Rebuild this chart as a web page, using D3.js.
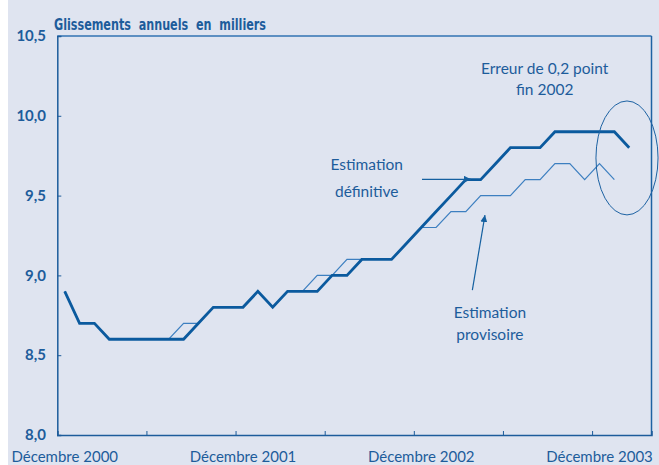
<!DOCTYPE html>
<meta charset="utf-8">
<style>
body {
  margin: 0;
  background: #fff;
}
svg text {
  fill: #1d5c9b;
  font-family: Lato, "Open Sans", sans-serif;
}
.title {
  font-family: "DejaVu Sans Condensed", "DejaVu Sans", sans-serif;
  font-size: 16px;
  font-weight: bold;
}
.ylab {
  font-size: 15px;
  font-weight: bold;
}
.xlab {
  font-size: 15px;
}
.note {
  font-size: 15.5px;
}
</style>
<body>
<script src="https://d3js.org/d3.v7.min.js"></script>
<script>

var width = 659,
    height = 465;

// months counted from Decembre 2000, points sit in the middle of each month
var definitive = [8.9, 8.7, 8.7, 8.6, 8.6, 8.6, 8.6, 8.6, 8.6, 8.7,
                  8.8, 8.8, 8.8, 8.9, 8.8, 8.9, 8.9, 8.9, 9.0, 9.0,
                  9.1, 9.1, 9.1, 9.2, 9.3, 9.4, 9.5, 9.6, 9.6, 9.7,
                  9.8, 9.8, 9.8, 9.9, 9.9, 9.9, 9.9, 9.9, 9.8];

var provisoire = [8.9, 8.7, 8.7, 8.6, 8.6, 8.6, 8.6, 8.6, 8.7, 8.7,
                  8.8, 8.8, 8.8, 8.9, 8.8, 8.9, 8.9, 9.0, 9.0, 9.1,
                  9.1, 9.1, 9.1, 9.2, 9.3, 9.3, 9.4, 9.4, 9.5, 9.5,
                  9.5, 9.6, 9.6, 9.7, 9.7, 9.6, 9.7, 9.6];

var yTicks = [8.0, 8.5, 9.0, 9.5, 10.0, 10.5];
var xTicks = [0, 6, 12, 18, 24, 30, 36];
var xLabels = [
  {m: 0, text: "Décembre 2000"},
  {m: 12, text: "Décembre 2001"},
  {m: 24, text: "Décembre 2002"},
  {m: 36, text: "Décembre 2003"}
];

// annotations, in (month, value) units
var notes = [
  {m: 20.83, v: 9.692, text: "Estimation"},
  {m: 20.83, v: 9.524, text: "définitive"},
  {m: 29.12, v: 8.766, text: "Estimation"},
  {m: 29.12, v: 8.627, text: "provisoire"},
  {m: 32.81, v: 10.298, text: "Erreur de 0,2 point"},
  {m: 32.81, v: 10.162, text: "fin 2002"}
];
var arrows = [
  {m0: 24.55, v0: 9.602, m1: 27.85, v1: 9.602},
  {m0: 27.94, v0: 8.908, m1: 28.79, v1: 9.378}
];
var ellipse = {m: 38.35, v: 9.736, dm: 2.09, dv: 0.357};

var margin = {top: 36, right: 7.5, bottom: 30, left: 57.3};

var x = d3.scaleLinear()
    .domain([0, 40])
    .range([margin.left, width - margin.right]);

var y = d3.scaleLinear()
    .domain([8, 10.5])
    .range([height - margin.bottom, margin.top]);

var svg = d3.select("body").append("svg")
    .attr("width", width)
    .attr("height", height);

svg.append("rect")
    .attr("x", 8)
    .attr("width", width - 8)
    .attr("height", height)
    .attr("fill", "#dfe4f0");

var defs = svg.append("defs");
defs.append("marker")
    .attr("id", "head")
    .attr("viewBox", "0 0 10 10")
    .attr("refX", 10)
    .attr("refY", 5)
    .attr("markerWidth", 7)
    .attr("markerHeight", 7)
    .attr("markerUnits", "userSpaceOnUse")
    .attr("orient", "auto")
  .append("path")
    .attr("d", "M0,0L10,5L0,10z")
    .attr("fill", "#1560a0");

svg.append("text")
    .attr("class", "title")
    .attr("x", 54)
    .attr("y", 30)
    .attr("textLength", 212)
    .attr("lengthAdjust", "spacingAndGlyphs")
    .text("Glissements  annuels  en  milliers")
    .style("white-space", "pre");

// frame: top and right borders
svg.append("line")
    .attr("x1", x(0)).attr("x2", x(40))
    .attr("y1", y(10.5)).attr("y2", y(10.5))
    .attr("stroke", "#5d8fc2")
    .attr("stroke-width", 2);
svg.append("line")
    .attr("x1", x(40)).attr("x2", x(40))
    .attr("y1", y(10.5)).attr("y2", y(8))
    .attr("stroke", "#1d62a3")
    .attr("stroke-width", 1.5);

// y axis
var yAxis = svg.append("g")
    .attr("transform", "translate(" + x(0) + ",0)")
    .call(d3.axisRight(y).tickValues(yTicks).tickSize(4).tickFormat(""));
yAxis.select(".domain").attr("stroke", "#1d5c9b").attr("stroke-width", 1.5);
yAxis.selectAll(".tick line").attr("stroke", "#1d5c9b");

svg.selectAll(".ylab")
    .data(yTicks)
  .enter().append("text")
    .attr("class", "ylab")
    .attr("x", 46)
    .attr("y", function(d) { return y(d); })
    .attr("dy", "0.35em")
    .attr("text-anchor", "end")
    .text(function(d) { return d3.format(".1f")(d).replace(".", ","); });

// x axis
var xAxis = svg.append("g")
    .attr("transform", "translate(0," + y(8) + ")")
    .call(d3.axisTop(x).tickValues(xTicks).tickSize(4).tickFormat(""));
xAxis.select(".domain").attr("stroke", "#1d5c9b").attr("stroke-width", 1.5);
xAxis.selectAll(".tick line").attr("stroke", "#1d5c9b");

svg.selectAll(".xlab")
    .data(xLabels)
  .enter().append("text")
    .attr("class", "xlab")
    .attr("x", function(d) { return x(d.m + 0.5); })
    .attr("y", 462)
    .attr("text-anchor", "middle")
    .text(function(d) { return d.text; });

var line = d3.line()
    .x(function(d, i) { return x(i + 0.5); })
    .y(function(d) { return y(d); });

svg.append("path")
    .datum(provisoire)
    .attr("fill", "none")
    .attr("stroke", "#3d7fc0")
    .attr("stroke-width", 1.2)
    .attr("d", line);

svg.append("path")
    .datum(definitive)
    .attr("fill", "none")
    .attr("stroke", "#0b5a9e")
    .attr("stroke-width", 2.8)
    .attr("d", line);

svg.selectAll(".note")
    .data(notes)
  .enter().append("text")
    .attr("class", "note")
    .attr("x", function(d) { return x(d.m); })
    .attr("y", function(d) { return y(d.v); })
    .attr("dy", "0.35em")
    .attr("text-anchor", "middle")
    .text(function(d) { return d.text; });

svg.selectAll(".arrow")
    .data(arrows)
  .enter().append("line")
    .attr("class", "arrow")
    .attr("x1", function(d) { return x(d.m0); })
    .attr("y1", function(d) { return y(d.v0); })
    .attr("x2", function(d) { return x(d.m1); })
    .attr("y2", function(d) { return y(d.v1); })
    .attr("stroke", "#1560a0")
    .attr("stroke-width", 1.2)
    .attr("marker-end", "url(#head)");

svg.append("ellipse")
    .attr("cx", x(ellipse.m))
    .attr("cy", y(ellipse.v))
    .attr("rx", x(ellipse.dm) - x(0))
    .attr("ry", y(8) - y(8 + ellipse.dv))
    .attr("fill", "none")
    .attr("stroke", "#1d62a3")
    .attr("stroke-width", 1);

</script>
